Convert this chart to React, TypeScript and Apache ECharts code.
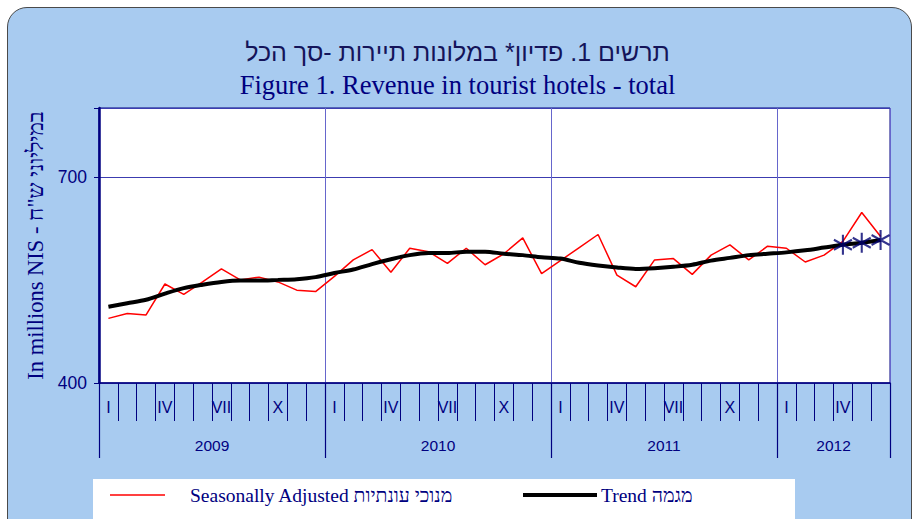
import React, { useEffect, useRef } from "react";
import * as echarts from "echarts";

// ---- data ----
const years = ["2009", "2010", "2011", "2012"];
const monthsPerYear = [12, 12, 12, 6];
const monthRoman = ["I", "", "", "IV", "", "", "VII", "", "", "X", "", ""];

const seasonallyAdjusted = [
  494, 501, 499, 544, 529, 547, 566, 550, 554, 547, 535, 533,
  555, 579, 594, 561, 596, 591, 574, 596, 572, 588, 611, 559,
  578, 597, 616, 557, 540, 579, 581, 558, 586, 601, 579, 599,
  596, 576, 586, 606, 648, 613,
];
const trend = [
  511, 516, 521, 530, 538, 543, 547, 549, 549, 550, 551, 554,
  560, 565, 573, 580, 586, 589, 589, 591, 591, 588, 586, 583,
  581, 575, 571, 568, 566, 567, 569, 572, 578, 582, 586, 588,
  590, 593, 597, 601, 604, 608,
];
const markedMonths = [39, 40, 41]; // Apr–Jun 2012 (index)

const yMin = 400;
const yMax = 800;
const yStep = 300;

const titleHe = "תרשים 1. פדיון* במלונות תיירות -סך הכל";
const titleEn = "Figure 1. Revenue in tourist hotels - total";
const yName = "In millions NIS - במיליוני ש\"ח";
const legendSA = "Seasonally Adjusted מנוכי עונתיות";
const legendTrend = "Trend מגמה";

// derived
const categories: string[] = [];
const monthLabelByIndex: string[] = [];
const yearStarts: number[] = [];
const yearMid: Record<number, string> = {};
{
  let c = 0;
  years.forEach((y, yi) => {
    yearStarts.push(c);
    yearMid[c + monthsPerYear[yi] / 2] = y;
    for (let m = 0; m < monthsPerYear[yi]; m++) {
      categories.push(`${y}-${m + 1}`);
      monthLabelByIndex.push(monthRoman[m]);
    }
    c += monthsPerYear[yi];
  });
}
const totalMonths = categories.length;
const markerData = trend.map((v, i) => (markedMonths.includes(i) ? v : "-"));

const NAVY = "#000080";
const SANS = "Liberation Sans, Arial, sans-serif";
const SERIF = "Liberation Serif, Times New Roman, serif";

export default function App() {
  const ref = useRef<HTMLDivElement>(null);
  useEffect(() => {
    if (!ref.current) return;
    const chart = echarts.init(ref.current, null, { renderer: "svg" });
    chart.setOption({
      animation: false,
      title: [
        {
          text: titleHe,
          left: "center",
          top: 34,
          textStyle: {
            fontSize: 25,
            fontWeight: "normal",
            fontFamily: SANS,
            color: "#14145a",
          },
        },
        {
          text: titleEn,
          left: "center",
          top: 66,
          textStyle: {
            fontSize: 26.5,
            fontWeight: "normal",
            fontFamily: SERIF,
            color: NAVY,
          },
        },
      ],
      grid: {
        left: 99,
        right: 25,
        top: 108,
        bottom: 136,
        show: true,
        backgroundColor: "#ffffff",
        borderColor: NAVY,
        borderWidth: 1,
      },
      xAxis: [
        {
          type: "category",
          data: categories,
          position: "bottom",
          boundaryGap: true,
          axisLine: { show: true, lineStyle: { color: NAVY, width: 1.5 } },
          axisTick: {
            show: true,
            interval: 0,
            length: 38,
            lineStyle: { color: NAVY, width: 1 },
          },
          axisLabel: {
            interval: 0,
            margin: 16,
            color: NAVY,
            fontSize: 16,
            fontFamily: SANS,
            formatter: (_v: string, i: number) => monthLabelByIndex[i],
          },
          splitLine: { show: false },
        },
        {
          type: "category",
          data: categories,
          position: "bottom",
          boundaryGap: true,
          axisLine: { show: false },
          axisTick: {
            show: true,
            interval: (i: number) => yearStarts.includes(i),
            length: 75,
            lineStyle: { color: NAVY, width: 1.2 },
          },
          axisLabel: { show: false },
          splitLine: {
            show: true,
            interval: (i: number) => yearStarts.includes(i),
            lineStyle: { color: "#6666cc", width: 1 },
          },
        },
        {
          type: "value",
          min: 0,
          max: totalMonths,
          interval: 3,
          position: "bottom",
          axisLine: { show: false },
          axisTick: { show: false },
          splitLine: { show: false },
          axisLabel: {
            margin: 54,
            color: NAVY,
            fontSize: 15.5,
            fontFamily: SANS,
            showMinLabel: true,
            showMaxLabel: true,
            formatter: (v: number) => yearMid[v] ?? "",
          },
        },
      ],
      yAxis: {
        type: "value",
        min: yMin,
        max: yMax,
        interval: yStep,
        name: yName,
        nameLocation: "middle",
        nameRotate: 90,
        nameGap: 52,
        nameTextStyle: {
          fontSize: 22.5,
          fontFamily: SERIF,
          color: NAVY,
        },
        axisLine: { show: true, lineStyle: { color: NAVY, width: 2.5 } },
        axisTick: { show: true, length: 5, lineStyle: { color: NAVY, width: 1 } },
        axisLabel: {
          margin: 12,
          color: NAVY,
          fontSize: 17.5,
          fontFamily: SANS,
          formatter: (v: number) => (v === yMax ? "" : String(v)),
        },
        splitLine: { show: true, lineStyle: { color: "#3c3cb0", width: 1 } },
      },
      series: [
        {
          name: "Seasonally Adjusted",
          type: "line",
          data: seasonallyAdjusted,
          symbol: "none",
          lineStyle: { color: "#ff0000", width: 1.5 },
          z: 3,
        },
        {
          name: "Trend",
          type: "line",
          data: trend,
          symbol: "none",
          smooth: 0.3,
          lineStyle: { color: "#000000", width: 4 },
          z: 4,
        },
        {
          name: "Trend markers",
          type: "scatter",
          data: markerData,
          symbol: "path://M7,0 L7,16 M0,4 L14,12 M0,12 L14,4",
          symbolSize: [18, 20],
          itemStyle: {
            color: "rgba(0,0,0,0)",
            borderColor: "#000070",
            borderWidth: 2.2,
          },
          z: 5,
        },
      ],
      graphic: [
        {
          type: "rect",
          shape: { x: 93, y: 479, width: 702, height: 45 },
          style: { fill: "#ffffff" },
          z: 1,
        },
        {
          type: "line",
          shape: { x1: 110, y1: 495, x2: 165, y2: 495 },
          style: { stroke: "#ff0000", lineWidth: 1.5 },
          z: 2,
        },
        {
          type: "text",
          x: 190,
          y: 495,
          style: {
            text: legendSA,
            fill: NAVY,
            font: "19.5px 'Liberation Serif', 'Times New Roman', serif",
            verticalAlign: "middle",
          },
          z: 2,
        },
        {
          type: "line",
          shape: { x1: 523, y1: 495, x2: 597, y2: 495 },
          style: { stroke: "#000000", lineWidth: 4 },
          z: 2,
        },
        {
          type: "text",
          x: 601,
          y: 495,
          style: {
            text: legendTrend,
            fill: NAVY,
            font: "19.5px 'Liberation Serif', 'Times New Roman', serif",
            verticalAlign: "middle",
          },
          z: 2,
        },
      ],
    });
    return () => chart.dispose();
  }, []);

  return (
    <div
      style={{
        position: "fixed",
        left: 0,
        top: 0,
        width: 915,
        height: 519,
        background: "#ffffff",
        overflow: "hidden",
      }}
    >
      <div
        style={{
          position: "absolute",
          left: 7,
          top: 7,
          width: 905,
          height: 540,
          boxSizing: "border-box",
          border: "1.5px solid #4a4a4a",
          borderRadius: 20,
          background: "#A8CBF0",
        }}
      />
      <div
        ref={ref}
        style={{ position: "absolute", left: 0, top: 0, width: 915, height: 519 }}
      />
    </div>
  );
}
